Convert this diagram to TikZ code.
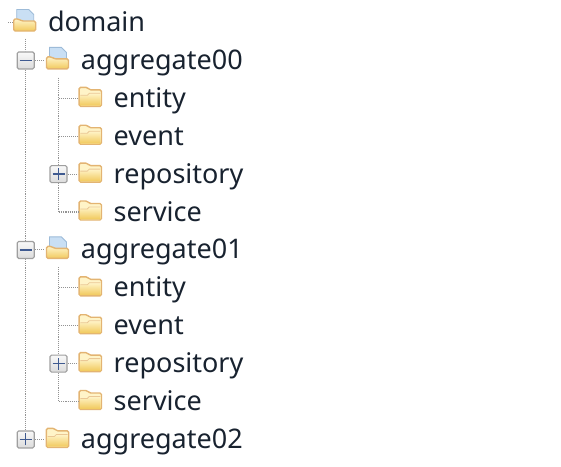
\documentclass[tikz,border=0pt]{standalone}
\usepackage{fontspec}
\setmainfont{Noto Sans}
\usetikzlibrary{positioning}
\definecolor{foldline}{HTML}{E3B472}
\definecolor{foldtop}{HTML}{FFF4C8}
\definecolor{foldlow}{HTML}{F1C95C}
\definecolor{paperblue}{HTML}{C9DFF4}
\definecolor{paperline}{HTML}{9DBBD8}
\definecolor{signblue}{HTML}{3F5A90}
\definecolor{treetext}{HTML}{18222F}
\begin{document}
\begin{tikzpicture}[
    x=1pt, y=1pt,
    node distance=9.5pt and 10.5pt,
    closedf/.style={rectangle, inner sep=0pt, minimum width=24pt, minimum height=28pt,
                path picture={
                  \draw[foldline, line width=1.4pt, rounded corners=1.5pt, fill=foldtop]
                    (-11.2,-8)--(-11.2,11)--(-3,11)--(-1,8.5)--(11.2,8.5)--(11.2,-8)--cycle;
                  \shade[top color=foldtop, bottom color=foldlow]
                    (-10.4,-7.3)--(-10.4,3)--(-3,3)--(-1,5)--(10.4,5)--(10.4,-7.3)--cycle;
                  \draw[foldline!75, line width=.8pt] (-10,3)--(-3,3)--(-1,5)--(10,5);
                }},
    openf/.style={rectangle, inner sep=0pt, minimum width=24pt, minimum height=28pt,
                path picture={
                  \draw[paperline, line width=.9pt, fill=paperblue]
                    (-8,1)--(-8,13)--(4,13)--(9,8)--(9,1)--cycle;
                  \draw[foldline, line width=1.4pt, rounded corners=1.5pt, top color=foldtop, bottom color=foldlow]
                    (-11,-8.5)--(-11,3.5)--(-6,3.5)--(-3,1.5)--(11,1.5)--(11,-8.5)--cycle;
                }},
    minusb/.style={rectangle, draw=gray!75, line width=1.2pt, rounded corners=1.5pt, inner sep=0pt,
                minimum size=17pt, top color=gray!5, bottom color=gray!28,
                path picture={\draw[signblue, line width=1.5pt] (-6,0)--(6,0);}},
    plusb/.style={minusb,
                path picture={\draw[signblue, line width=1.5pt] (-6,0)--(6,0) (0,-6)--(0,6);}},
    lbl/.style={inner sep=0pt, font=\fontsize{27}{27}\selectfont, text=treetext,
                text height=22pt, text depth=4pt},
    dots/.style={densely dotted, line width=1.1pt, gray!85}
]
\useasboundingbox (0,0) rectangle (561,-466);
% tree root
\node[openf] (dom) at (24.7,-22.5) {};
\node[lbl, right=11pt of dom] (domt) {domain};
\coordinate (doms) at (8,-22.5);

% first aggregate
\node[openf, below=of dom, xshift=32.8pt] (ag0) {};
\node[lbl, right=11pt of ag0] (ag0t) {aggregate00};
\node[minusb, left=of ag0] (ag0b) {};
\node[closedf, below=of ag0, xshift=32.8pt] (en0) {};
\node[lbl, right=11pt of en0] (en0t) {entity};
\node[closedf, below=of en0] (ev0) {};
\node[lbl, right=11pt of ev0] (ev0t) {event};
\node[closedf, below=of ev0] (re0) {};
\node[lbl, right=11pt of re0] (re0t) {repository};
\node[plusb, left=of re0] (re0b) {};
\node[closedf, below=of re0] (se0) {};
\node[lbl, right=11pt of se0] (se0t) {service};

% second aggregate
\node[openf, below=of se0, xshift=-32.8pt] (ag1) {};
\node[lbl, right=11pt of ag1] (ag1t) {aggregate01};
\node[minusb, left=of ag1] (ag1b) {};
\node[closedf, below=of ag1, xshift=32.8pt] (en1) {};
\node[lbl, right=11pt of en1] (en1t) {entity};
\node[closedf, below=of en1] (ev1) {};
\node[lbl, right=11pt of ev1] (ev1t) {event};
\node[closedf, below=of ev1] (re1) {};
\node[lbl, right=11pt of re1] (re1t) {repository};
\node[plusb, left=of re1] (re1b) {};
\node[closedf, below=of re1] (se1) {};
\node[lbl, right=11pt of se1] (se1t) {service};

% third aggregate
\node[closedf, below=of se1, xshift=-32.8pt] (ag2) {};
\node[lbl, right=11pt of ag2] (ag2t) {aggregate02};
\node[plusb, left=of ag2] (ag2b) {};

% connectors
\draw[dots] (doms)--(dom.west);
\coordinate (domb) at ([yshift=-2pt]ag0b |- dom.south);
\draw[dots] (domb)--(ag0b.north);
\draw[dots] (ag0b.south)--(ag1b.north);
\draw[dots] (ag1b.south)--(ag2b.north);
\draw[dots] (ag0b.east)--(ag0.west);
\draw[dots] (ag1b.east)--(ag1.west);
\draw[dots] (ag2b.east)--(ag2.west);
\coordinate (ag0s) at ([yshift=-3pt]re0b |- ag0.south);
\coordinate (ag1s) at ([yshift=-3pt]re1b |- ag1.south);
\draw[dots] (ag0s)--(re0b.north);
\draw[dots] (ag1s)--(re1b.north);
\draw[dots] (re0b.south) |- (se0.west);
\draw[dots] (re1b.south) |- (se1.west);
\draw[dots] (re0b |- en0) -- (en0.west);
\draw[dots] (re0b |- ev0) -- (ev0.west);
\draw[dots] (re1b |- en1) -- (en1.west);
\draw[dots] (re1b |- ev1) -- (ev1.west);
\draw[dots] (re0b.east)--(re0.west);
\draw[dots] (re1b.east)--(re1.west);
\end{tikzpicture}
\end{document}
